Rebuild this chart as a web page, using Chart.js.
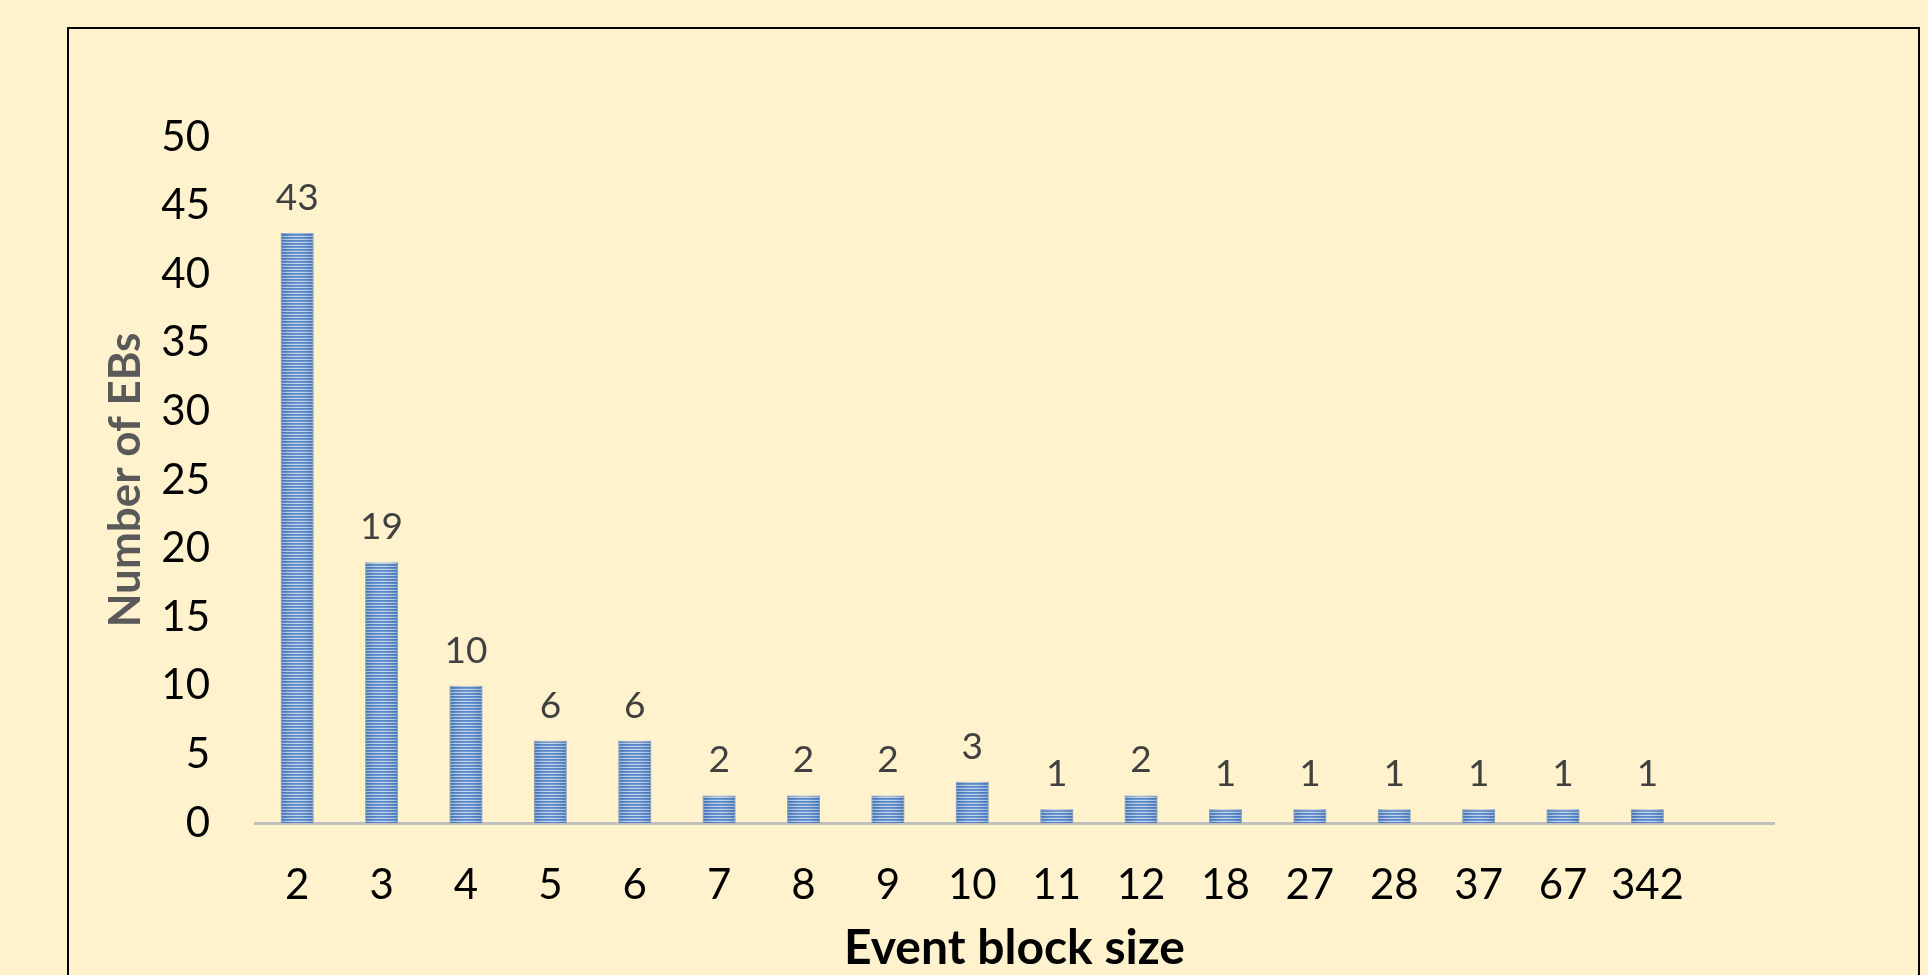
<!DOCTYPE html>
<html>
<head>
<meta charset="utf-8">
<title>Event block sizes</title>
<script src="https://cdn.jsdelivr.net/npm/chart.js@4.4.1/dist/chart.umd.min.js"></script>
<style>
  html, body { margin: 0; padding: 0; background: #fff2cc; }
  canvas { display: block; }
</style>
</head>
<body>
<canvas id="chart" width="1928" height="975"></canvas>
<script>
// Event block sizes and how many event blocks (EBs) have each size.
const blockSizes = ['2', '3', '4', '5', '6', '7', '8', '9', '10', '11', '12', '18', '27', '28', '37', '67', '342', ''];
const blockCounts = [43, 19, 10, 6, 6, 2, 2, 2, 3, 1, 2, 1, 1, 1, 1, 1, 1, null];
const yTicks = [0, 5, 10, 15, 20, 25, 30, 35, 40, 45, 50];

const FONT = 'Lato, "Open Sans", "Noto Sans", sans-serif';

// Horizontal striped fill for the bars
function stripePattern() {
  const c = document.createElement('canvas');
  c.width = 4; c.height = 3;
  const g = c.getContext('2d');
  g.fillStyle = '#4679bf'; g.fillRect(0, 0, 4, 1);
  g.fillStyle = '#5f8dcd'; g.fillRect(0, 1, 4, 1);
  g.fillStyle = '#c0d3ed'; g.fillRect(0, 2, 4, 1);
  return g.createPattern(c, 'repeat');
}

// Page background and the outer frame
const frame = {
  id: 'frame',
  beforeDraw(chart) {
    const ctx = chart.ctx;
    ctx.save();
    ctx.fillStyle = '#fff2cc';
    ctx.fillRect(0, 0, chart.width, chart.height);
    ctx.strokeStyle = '#000000';
    ctx.lineWidth = 2;
    ctx.strokeRect(68, 28, 1851, 1000);
    ctx.restore();
  }
};

// Soft shading across each bar and the value above it
const barDecor = {
  id: 'barDecor',
  afterDatasetsDraw(chart) {
    const ctx = chart.ctx;
    const meta = chart.getDatasetMeta(0);
    const values = chart.data.datasets[0].data;
    ctx.save();
    meta.data.forEach((bar, i) => {
      const v = values[i];
      if (v === null || v === undefined) return;
      const left = bar.x - bar.width / 2;
      const right = bar.x + bar.width / 2;
      const grad = ctx.createLinearGradient(left, 0, right, 0);
      grad.addColorStop(0, 'rgba(40,80,140,0.28)');
      grad.addColorStop(0.5, 'rgba(255,255,255,0.10)');
      grad.addColorStop(1, 'rgba(40,80,140,0.28)');
      ctx.fillStyle = grad;
      ctx.fillRect(left, bar.y, bar.width, bar.base - bar.y);

      ctx.fillStyle = '#404040';
      ctx.font = '37px ' + FONT;
      ctx.textAlign = 'center';
      ctx.textBaseline = 'middle';
      ctx.fillText(String(v), bar.x, bar.y - 35);
    });
    ctx.restore();
  }
};

new Chart(document.getElementById('chart'), {
  type: 'bar',
  data: {
    labels: blockSizes,
    datasets: [{
      data: blockCounts,
      backgroundColor: stripePattern(),
      borderColor: 'rgba(150,180,220,0.9)',
      borderWidth: 1,
      borderSkipped: 'bottom',
      categoryPercentage: 1,
      barPercentage: 0.39
    }]
  },
  options: {
    responsive: false,
    animation: false,
    layout: { padding: { top: 137, right: 154, left: 0, bottom: 0 } },
    plugins: {
      legend: { display: false },
      tooltip: { enabled: false }
    },
    scales: {
      x: {
        grid: { display: false, drawTicks: false },
        border: { display: true, color: '#bfbfbf', width: 3 },
        ticks: {
          color: '#000000',
          font: { family: FONT, size: 42 },
          padding: 37,
          autoSkip: false,
          maxRotation: 0
        },
        title: {
          display: true,
          text: 'Event block size',
          color: '#000000',
          font: { family: FONT, size: 48, weight: 'bold', lineHeight: 1.1 },
          padding: { top: 0, bottom: 0 }
        },
        afterFit(scale) { scale.height = 152; }
      },
      y: {
        min: 0,
        max: 50,
        grid: { display: false, drawTicks: false },
        border: { display: false },
        afterBuildTicks(scale) { scale.ticks = yTicks.map(v => ({ value: v })); },
        ticks: {
          color: '#000000',
          font: { family: FONT, size: 42 },
          padding: 45
        },
        title: {
          display: true,
          text: 'Number of EBs',
          color: '#595959',
          font: { family: FONT, size: 44, weight: 'bold', lineHeight: 1.2 },
          padding: { top: 99, bottom: 0 }
        },
        afterFit(scale) { scale.width = 255; }
      }
    }
  },
  plugins: [frame, barDecor]
});
</script>
</body>
</html>
